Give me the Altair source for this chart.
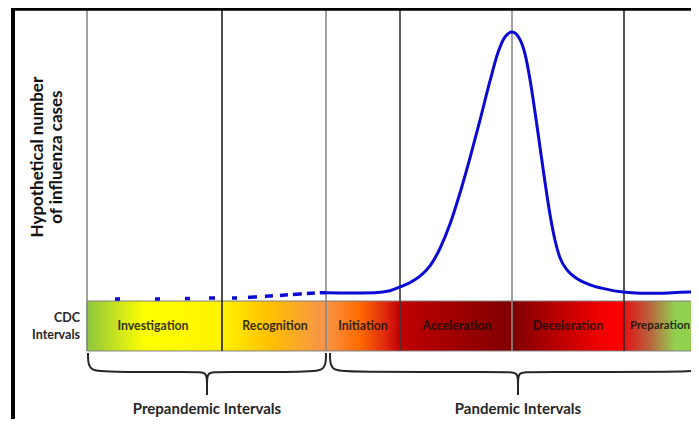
import altair as alt
import pandas as pd

# ---------------- data ----------------
# CDC intervals (timeline positions of interval starts)
intervals = ["Investigation", "Recognition", "Initiation", "Acceleration", "Deceleration"]
interval_starts = [87, 222, 326, 400, 512, 624]
interval_label_x = [153, 275, 363, 457, 568]
last_interval = "Preparation"
boundary_color = ["#8a8a8a", "#1f1f1f", "#8a8a8a", "#3a3a3a", "#8a8a8a", "#2a2a2a"]

# hypothetical number of influenza cases (0 = baseline at band top, 100 ~ peak)
solid_x = [326, 350, 375, 390, 400, 410, 420, 430, 440, 450, 460, 470, 480, 490, 498, 505, 512,
           519, 525, 530, 535, 540, 545, 550, 555, 560, 567, 575, 590, 605, 623, 640, 660, 680, 699]
solid_cases = [3.1, 3.0, 3.1, 3.8, 5.2, 6.8, 9.2, 13.0, 19.5, 28.5, 40.0, 53.0, 67.0, 81.5, 92.0, 97.8, 99.6,
               97.5, 91.5, 82.0, 70.0, 57.0, 44.0, 32.0, 22.5, 16.0, 11.5, 8.8, 6.0, 4.5, 3.3, 2.9, 2.9, 3.2, 3.4]
dashed_x = [115, 160, 190, 212, 235, 255, 270, 285, 300, 315, 326]
dashed_cases = [0.74, 0.74, 0.93, 1.1, 1.1, 1.5, 1.85, 2.2, 2.6, 2.96, 3.1]

group_names = ["Prepandemic Intervals", "Pandemic Intervals"]
group_start = [88, 330]
group_mid = [207, 518]
group_end = [326, 706]

# ---------------- geometry in chart units ----------------
X_DOM = [8, 691]
Y_DOM = [-43.7, 108.52]
BAND_TOP, BAND_BOT = 0, -18.5
TOP_Y = 108.2

xs = alt.Scale(domain=X_DOM, nice=False, zero=False)
ys = alt.Scale(domain=Y_DOM, nice=False, zero=False)

def X(f):
    return alt.X(f, type="quantitative", scale=xs, axis=None)

def Y(f):
    return alt.Y(f, type="quantitative", scale=ys, axis=None)

stops_px = [87, 145, 222, 270, 320, 326, 360, 385, 400, 512, 600, 624, 626, 650, 675, 699]
stops_col = ["#8DC63F", "#FFFF00", "#FFF200", "#FFC000", "#F79646", "#F79646", "#FF6A00", "#E02A10",
             "#C00000", "#7F0000", "#F00000", "#FF0000", "#E01818", "#B8643C", "#92D050", "#92D050"]
gradient = alt.LinearGradient(
    gradient="linear",
    stops=[alt.GradientStop(color=c, offset=(p - 87) / (699 - 87)) for p, c in zip(stops_px, stops_col)],
    x1=0, x2=1, y1=0, y2=0,
)

band_df = pd.DataFrame({"x": [87], "x2": [699], "y": [BAND_TOP], "y2": [BAND_BOT]})
band = alt.Chart(band_df).mark_rect(fill=gradient, stroke="#7f7f7f", strokeWidth=1, clip=True).encode(
    x=X("x"), x2="x2", y=Y("y"), y2="y2"
)

rules_df = pd.DataFrame({"x": interval_starts, "y": [TOP_Y] * 6, "y2": [BAND_BOT] * 6, "c": boundary_color})
rules = alt.Chart(rules_df).mark_rule(strokeWidth=1.6).encode(
    x=X("x"), y=Y("y"), y2="y2", color=alt.Color("c:N", scale=None)
)

top_df = pd.DataFrame({"x": [11], "x2": [699], "y": [TOP_Y]})
top_border = alt.Chart(top_df).mark_rule(color="black", strokeWidth=4, clip=True).encode(
    x=X("x"), x2="x2", y=Y("y")
)
left_df = pd.DataFrame({"x": [13], "y": [Y_DOM[0]], "y2": [108.9]})
left_border = alt.Chart(left_df).mark_rule(color="black", strokeWidth=4).encode(
    x=X("x"), y=Y("y"), y2="y2"
)

solid_df = pd.DataFrame({"x": solid_x, "y": solid_cases})
solid = alt.Chart(solid_df).mark_line(color="#0a0ad2", strokeWidth=3, interpolate="monotone", clip=True).encode(
    x=X("x"), y=Y("y")
)
dashed_df = pd.DataFrame({"x": dashed_x, "y": dashed_cases})
dashed = alt.Chart(dashed_df).mark_line(
    color="#0a0ad2", strokeWidth=3.5, interpolate="monotone",
    strokeDash=[5, 35, 5, 25, 5, 19, 6, 17, 5, 11, 9, 8, 8, 7, 8, 5, 9, 5, 8, 5, 10, 5],
).encode(x=X("x"), y=Y("y"))

# braces
rows = []
E, N, H, M, T = -19.3, -25.6, -26.3, -30.7, -34.8
for g, (s, m, e) in enumerate(zip(group_start, group_mid, group_end)):
    left = [(s, E), (s, N), (s + 16, H), (m - 11, H), (m, H), (m, M), (m, T)]
    right = [(m, T), (m, M), (m, H), (m + 11, H), (e - 16, H), (e, N), (e, E)]
    for h, pts in enumerate([left, right]):
        for i, (px, py) in enumerate(pts):
            rows.append({"x": px, "y": py, "seg": f"{g}-{h}", "i": i})
brace_df = pd.DataFrame(rows)
braces = alt.Chart(brace_df).mark_line(color="#262626", strokeWidth=2, interpolate="basis", clip=True).encode(
    x=X("x"), y=Y("y"), detail="seg:N", order="i:Q"
)

lab_df = pd.DataFrame({"x": interval_label_x, "y": [-9.3] * 5, "t": intervals})
band_labels = alt.Chart(lab_df).mark_text(
    font="Lato", fontWeight="bold", fontSize=12.3, color="#111111", opacity=0.85
).encode(x=X("x"), y=Y("y"), text="t:N")

last_df = pd.DataFrame({"x": [690], "y": [-9.3], "t": [last_interval]})
last_label = alt.Chart(last_df).mark_text(
    font="Lato", fontWeight="bold", fontSize=11.5, color="#111111", opacity=0.85, align="right"
).encode(x=X("x"), y=Y("y"), text="t:N")

cdc_df = pd.DataFrame({"x": [80, 80], "y": [-6.3, -12.6], "t": ["CDC", "Intervals"]})
cdc = alt.Chart(cdc_df).mark_text(
    font="Lato", fontWeight="bold", fontSize=12.5, color="#262626", align="right"
).encode(x=X("x"), y=Y("y"), text="t:N")

grp_df = pd.DataFrame({"x": group_mid, "y": [-40.0, -40.0], "t": group_names})
grp = alt.Chart(grp_df).mark_text(
    font="Lato", fontWeight="bold", fontSize=15, color="#262626"
).encode(x=X("x"), y=Y("y"), text="t:N")

yt_df = pd.DataFrame({"x": [38, 57], "y": [53.3, 53.3], "t": ["Hypothetical number", "of influenza cases"]})
ytitle = alt.Chart(yt_df).mark_text(
    font="Lato", fontWeight="bold", fontSize=17, color="#111111", angle=270
).encode(x=X("x"), y=Y("y"), text="t:N")

chart = alt.layer(
    band, rules, top_border, left_border, dashed, solid, braces, band_labels, last_label, cdc, grp, ytitle
).properties(
    width=683, height=411, autosize=alt.AutoSizeParams(type="none"), padding=0, background="white"
).configure_view(stroke=None)

chart.save("out.html", embed_options={"renderer": "svg", "actions": False})
